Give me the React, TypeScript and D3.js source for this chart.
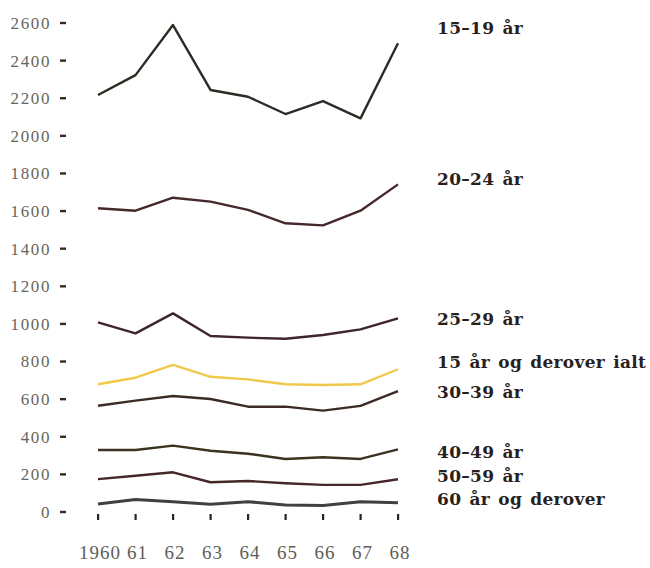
import React from "react";
import * as d3 from "d3";

const years = ["1960", "61", "62", "63", "64", "65", "66", "67", "68"];
const yTicks = [0, 200, 400, 600, 800, 1000, 1200, 1400, 1600, 1800, 2000, 2200, 2400, 2600];

const age15_19 = [2217, 2323, 2589, 2244, 2208, 2116, 2185, 2093, 2492];
const age20_24 = [1615, 1602, 1671, 1650, 1606, 1535, 1524, 1602, 1742];
const age25_29 = [1008, 950, 1056, 936, 927, 921, 941, 971, 1030];
const total15 = [679, 714, 782, 719, 705, 679, 675, 679, 759];
const age30_39 = [565, 592, 617, 601, 560, 560, 539, 564, 643];
const age40_49 = [330, 330, 353, 326, 310, 282, 291, 282, 333];
const age50_59 = [175, 193, 211, 158, 165, 153, 144, 144, 174];
const age60 = [43, 67, 55, 41, 55, 37, 34, 55, 49];

const seriesNames = [
  "15–19 år",
  "20–24 år",
  "25–29 år",
  "15 år og derover ialt",
  "30–39 år",
  "40–49 år",
  "50–59 år",
  "60 år og derover",
];
const seriesValues = [age15_19, age20_24, age25_29, total15, age30_39, age40_49, age50_59, age60];
const seriesColors = ["#2e2a24", "#45282a", "#3d2528", "#f0c84a", "#3c2a24", "#3a3320", "#45272a", "#1e1e1e"];
const labelBaselines = [34, 185, 325, 368, 398, 458, 482, 505];

const W = 650;
const H = 568;
const serif = "'Liberation Serif', 'Times New Roman', serif";
const boldSerif = "'DejaVu Serif', 'Liberation Serif', serif";

export default function App() {
  const x = d3.scalePoint<string>().domain(years).range([98, 398]);
  const y = d3.scaleLinear().domain([0, 2600]).range([512, 23]);
  const line = d3
    .line<number>()
    .x((_, i) => x(years[i]) as number)
    .y((d) => y(d));

  return (
    <svg
      width={W}
      height={H}
      style={{ position: "absolute", left: 0, top: 0, background: "#fff", fontFamily: serif }}
    >
      {yTicks.map((t) => (
        <g key={t}>
          <rect x={60} y={y(t) - 1.2} width={6} height={2.4} fill="#3a2a26" />
          <text
            x={51}
            y={y(t)}
            dy="0.35em"
            textAnchor="end"
            style={{ fontFamily: serif, fontSize: 17, letterSpacing: 1.6 }}
            fill="#66665e"
          >
            {t}
          </text>
        </g>
      ))}
      {years.map((yr) => (
        <g key={yr}>
          <rect x={(x(yr) as number) - 1} y={514} width={2.2} height={6} fill="#2a2420" />
          <text
            x={(x(yr) as number) + 2}
            y={559}
            textAnchor="middle"
            style={{ fontFamily: serif, fontSize: 19, letterSpacing: 1 }}
            fill="#5e5e58"
          >
            {yr}
          </text>
        </g>
      ))}
      {seriesValues.map((vals, i) => (
        <path
          key={seriesNames[i]}
          d={line(vals) || ""}
          fill="none"
          stroke={seriesColors[i]}
          strokeWidth={i === 7 ? 3 : 2.4}
          strokeLinejoin="round"
          opacity={i === 7 ? 0.85 : 1}
        />
      ))}
      {seriesNames.map((n, i) => (
        <text
          key={n}
          x={437}
          y={labelBaselines[i]}
          style={{ fontFamily: boldSerif, fontSize: 17, fontWeight: "bold", letterSpacing: 0.3, wordSpacing: 2 }}
          fill="#2a1f1c"
        >
          {n}
        </text>
      ))}
    </svg>
  );
}
